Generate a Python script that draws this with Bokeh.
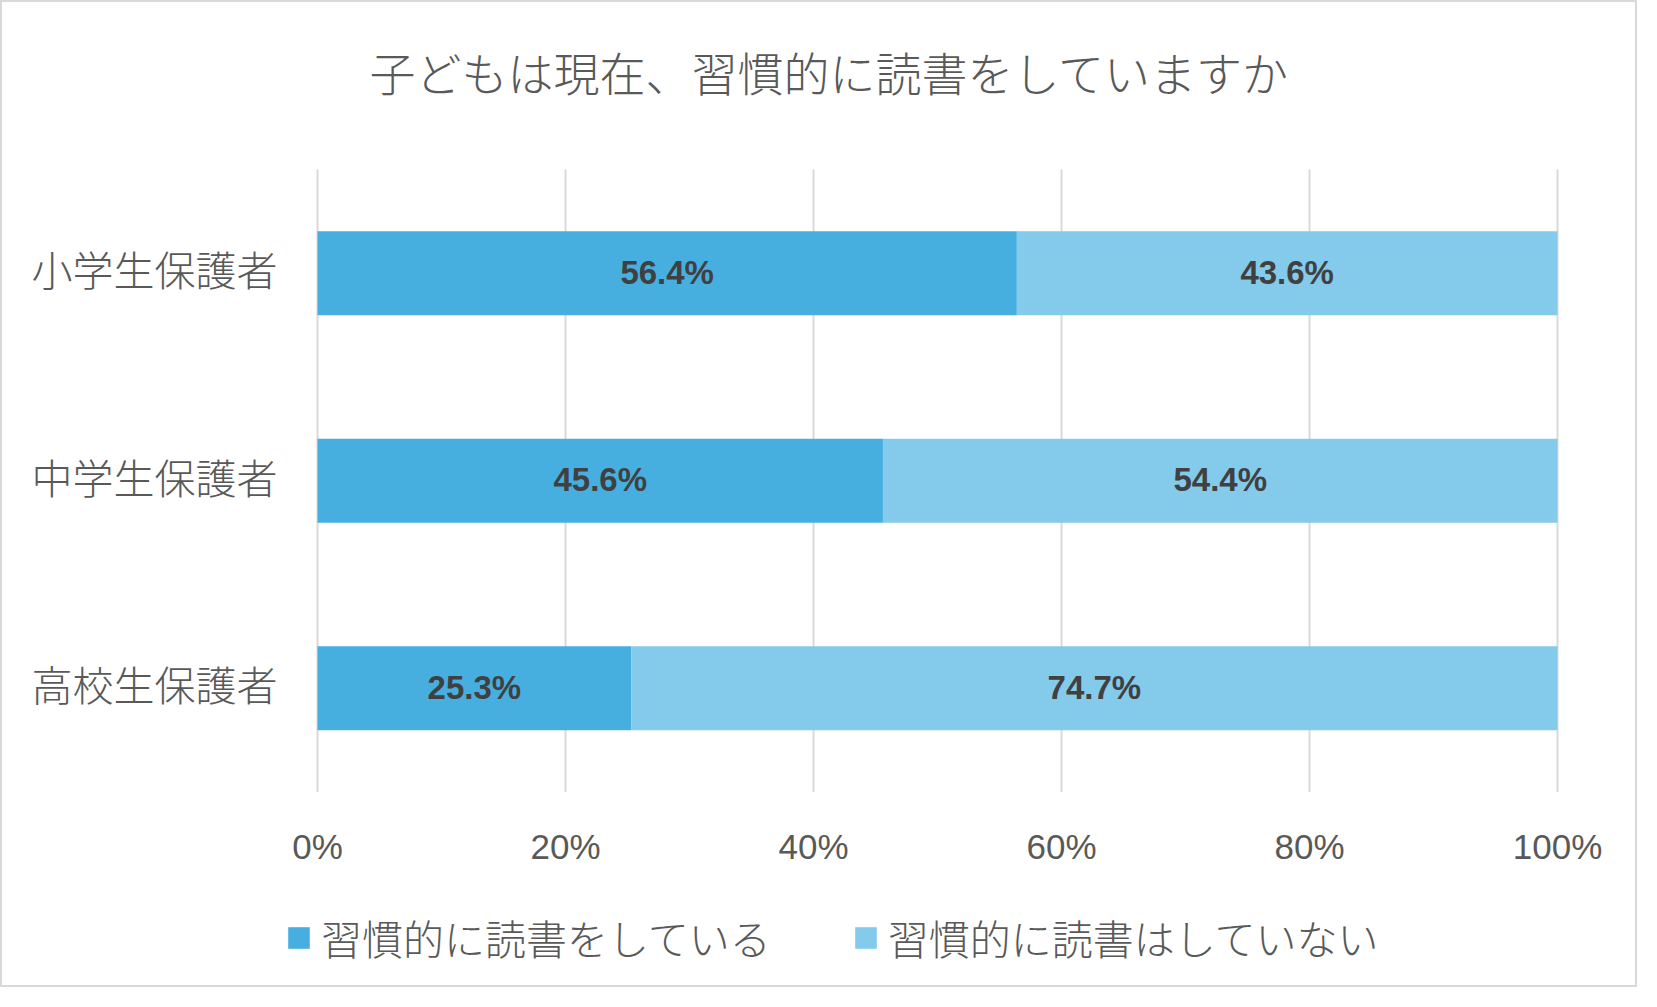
from bokeh.plotting import figure
from bokeh.models import ColumnDataSource, Range1d, Legend, LegendItem
from bokeh.embed import file_html
from bokeh.resources import INLINE
from bokeh.core.properties import value

title_text = "子どもは現在、習慣的に読書をしていますか"
categories = ["小学生保護者", "中学生保護者", "高校生保護者"]
series_names = ["習慣的に読書をしている", "習慣的に読書はしていない"]
reading = [56.4, 45.6, 25.3]
not_reading = [43.6, 54.4, 74.7]
x_ticks = [0, 20, 40, 60, 80, 100]
tick_labels = ["0%", "20%", "40%", "60%", "80%", "100%"]
colors = ["#47AFE0", "#83CAEB"]

JP = "'Noto Sans CJK JP Light', 'Noto Sans CJK JP'"
LAT = "Liberation Sans"
GREY = "#595959"

W, H = 1637, 987
PX_X = 12.4      # pixels per percent
PX_Y = 207.5     # pixels per category band
X0 = -315 / PX_X
Y_TOP = -270.75 / PX_Y

p = figure(width=W, height=H, output_backend="svg", toolbar_location=None,
           x_range=Range1d(X0, X0 + W / PX_X),
           y_range=Range1d(Y_TOP + H / PX_Y, Y_TOP),
           min_border=0, styles={"border": "2px solid #D9D9D9"})
p.axis.visible = False
p.grid.visible = False
p.outline_line_color = None
p.background_fill_color = "white"
p.border_fill_color = "white"

n = len(categories)
idx = list(range(n))
band_top = idx[0] - 0.5
band_bottom = idx[-1] + 0.5

# vertical grid lines
p.segment(x0=x_ticks, x1=x_ticks, y0=[band_top] * len(x_ticks), y1=[band_bottom] * len(x_ticks),
          line_color="#D9D9D9", line_width=2)

src = ColumnDataSource(dict(
    y=idx,
    l1=[0] * n, r1=reading,
    l2=reading, r2=[a + b for a, b in zip(reading, not_reading)],
    m1=[a / 2 for a in reading],
    m2=[a + b / 2 for a, b in zip(reading, not_reading)],
    t1=[f"{v:.1f}%" for v in reading],
    t2=[f"{v:.1f}%" for v in not_reading],
    cat=categories,
))

bh = 0.405
r1 = p.hbar(y="y", left="l1", right="r1", height=bh, source=src, fill_color=colors[0], line_color=None)
r2 = p.hbar(y="y", left="l2", right="r2", height=bh, source=src, fill_color=colors[1], line_color=None)

for xcol, tcol in (("m1", "t1"), ("m2", "t2")):
    p.text(x=xcol, y="y", text=tcol, source=src, text_align="center", text_baseline="middle",
           y_offset=-1,
           text_font=value(LAT), text_font_style="bold", text_font_size="33px", text_color="#404040")

# category labels (left of the plot area)
p.text(x=-40 / PX_X, y="y", text="cat", source=src, text_align="right", text_baseline="middle",
       y_offset=-5,
       text_font=value(JP), text_font_size="41px", text_color=GREY)

# x tick labels
p.text(x=x_ticks, y=[band_bottom + 57 / PX_Y] * len(x_ticks), text=tick_labels,
       text_align="center", text_baseline="middle", y_offset=-3,
       text_font=value(LAT), text_font_size="35px", text_color=GREY)

# title
p.text(x=[(829 - 317) / PX_X], y=[Y_TOP + 72 / PX_Y], text=[title_text],
       text_align="center", text_baseline="middle", y_offset=-4,
       text_font=value(JP), text_font_size="46px", text_color=GREY)

legend = Legend(items=[LegendItem(label=series_names[0], renderers=[r1]),
                       LegendItem(label=series_names[1], renderers=[r2])],
                orientation="horizontal", location=(283, 22),
                glyph_width=27, glyph_height=27, label_standoff=9, spacing=81,
                padding=0, margin=0, border_line_color=None, background_fill_alpha=0,
                label_text_font=JP, label_text_font_size="41px", label_text_color=GREY)
p.add_layout(legend, "center")

open("out.html", "w").write(file_html(p, INLINE))
